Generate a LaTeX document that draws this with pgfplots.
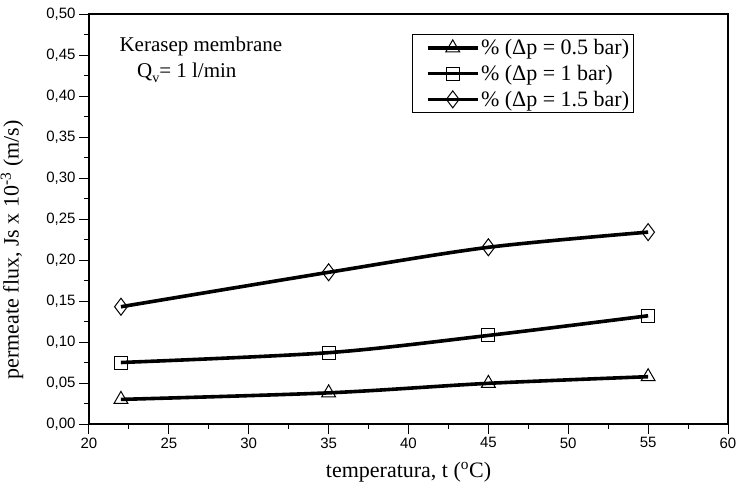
\documentclass[border=0pt]{standalone}
\usepackage{pgfplots}
\pgfplotsset{compat=1.18}
\usepackage{fontspec}
\setmainfont{Liberation Serif}
\newfontfamily\ticksans{Liberation Sans}

% permeate flux vs. temperature for three transmembrane pressures
\pgfplotstableread{
t     dp05    dp1     dp15
22    0.030   0.075   0.143
35    0.038   0.087   0.185
45    0.0496  0.108   0.2155
55    0.0577  0.132   0.234
}\fluxdata

\pgfplotsset{
  fluxline/.style={black, line width=3.6pt, smooth,
    mark options={line width=1pt, solid, black}},
}

\begin{document}
\begin{tikzpicture}[x=1pt,y=1pt]
\useasboundingbox (-89,-67) rectangle (650,424);
\begin{axis}[
  at={(0pt,0pt)}, anchor=south west,
  scale only axis, width=639pt, height=410pt,
  xmin=20, xmax=60, ymin=0, ymax=0.5,
  xtick={20,25,30,35,40,45,50,55,60},
  ytick={0,0.05,0.10,0.15,0.20,0.25,0.30,0.35,0.40,0.45,0.50},
  minor x tick num=1, minor y tick num=1,
  tick align=outside, xtick pos=bottom, ytick pos=left,
  major tick length=10pt, minor tick length=5pt,
  every tick/.style={black, line width=1pt},
  axis line style={line width=1.1pt},
  /pgf/number format/assume math mode=true,
  ticklabel style={font=\ticksans\fontsize{15}{17}\selectfont},
  yticklabel style={/pgf/number format/.cd, fixed, fixed zerofill, precision=2, use comma},
  xticklabel style={/pgf/number format/.cd, fixed, precision=0},
  label style={font=\fontsize{22}{26}\selectfont},
  xlabel={temperatura, t (\textsuperscript{o}C)},
  ylabel={permeate flux, Js x 10\textsuperscript{-3} (m/s)},
  xlabel style={at={(axis description cs:0.5,-0.117)}, anchor=center},
  ylabel style={at={(axis description cs:-0.1205,0.425)}, anchor=center},
  legend style={at={(axis cs:40.25,0.4756)}, anchor=north west,
    draw=black, line width=0.9pt, font=\fontsize{22}{24}\selectfont,
    inner xsep=3pt, inner ysep=3.5pt, row sep=6pt,
    nodes={inner sep=1.5pt}},
  legend cell align=left,
  legend image code/.code={%
    \path (0pt,0pt);
    \draw[mark repeat=2, mark phase=2, every mark/.append style={fill=white}]
      plot coordinates {(10pt,0pt) (35pt,0pt) (60pt,0pt)};},
]
\addplot[fluxline, mark=triangle, mark size=8pt]
  table[x=t, y=dp05] {\fluxdata};
\addlegendentry{\% (Δp = 0.5 bar)}
\addplot[fluxline, mark=square, mark size=6.5pt]
  table[x=t, y=dp1] {\fluxdata};
\addlegendentry{\% (Δp = 1 bar)}
\addplot[fluxline, mark=diamond, mark size=8.5pt]
  table[x=t, y=dp15] {\fluxdata};
\addlegendentry{\% (Δp = 1.5 bar)}

\node[anchor=west, font=\fontsize{21}{23}\selectfont, inner sep=0pt]
  at (axis cs:21.9,0.46) {Kerasep membrane};
\node[anchor=west, font=\fontsize{21}{23}\selectfont, inner sep=0pt]
  at (axis cs:23.0,0.428) {Q\raisebox{-0.55ex}{\fontsize{14}{14}\selectfont v}= 1 l/min};
\end{axis}
\end{tikzpicture}
\end{document}
